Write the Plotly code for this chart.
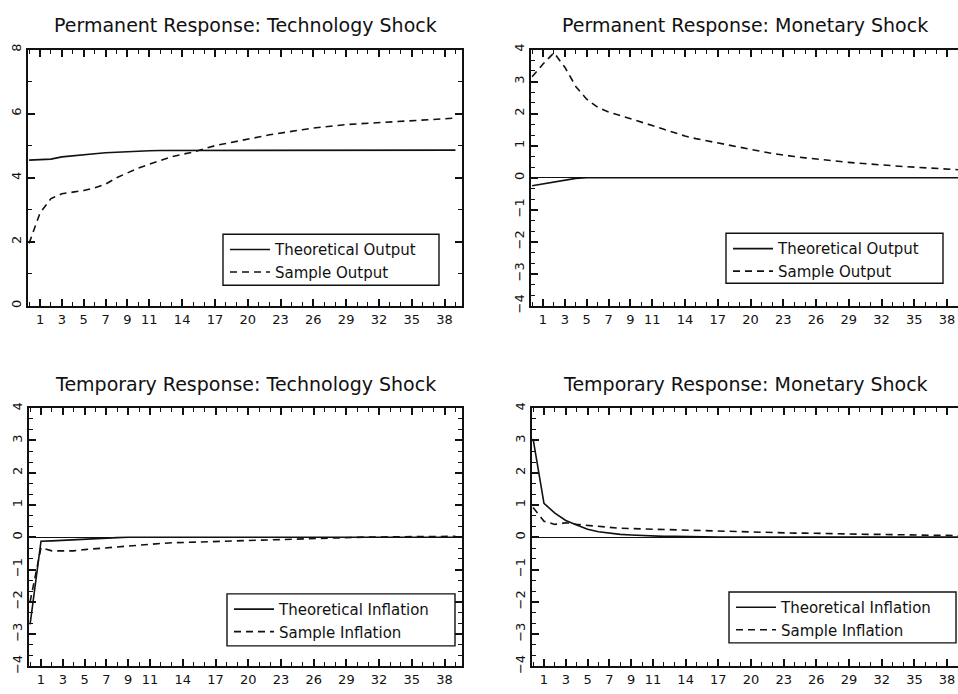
import plotly.graph_objects as go

# Horizon (periods after the shock)
periods = list(range(40))
x_tick_labels = [1, 3, 5, 7, 9, 11, 14, 17, 20, 23, 26, 29, 32, 35, 38]

# Permanent response to a technology shock (output)
tech_perm_theoretical = [4.55, 4.56, 4.58, 4.65, 4.69, 4.72, 4.75, 4.78, 4.80, 4.82,
                         4.83, 4.84, 4.85, 4.85, 4.85, 4.85, 4.85, 4.85, 4.85, 4.85,
                         4.85, 4.85, 4.85, 4.85, 4.85, 4.85, 4.85, 4.85, 4.85, 4.85,
                         4.85, 4.85, 4.85, 4.85, 4.85, 4.86, 4.86, 4.86, 4.86, 4.86]
tech_perm_sample = [1.95, 2.90, 3.35, 3.50, 3.55, 3.60, 3.68, 3.80, 4.00, 4.15,
                    4.30, 4.42, 4.53, 4.65, 4.73, 4.80, 4.90, 5.00, 5.07, 5.13,
                    5.20, 5.27, 5.34, 5.40, 5.45, 5.50, 5.55, 5.59, 5.63, 5.66,
                    5.68, 5.70, 5.72, 5.74, 5.76, 5.78, 5.80, 5.82, 5.84, 5.86]

# Permanent response to a monetary shock (output)
mon_perm_theoretical = [-0.25, -0.19, -0.13, -0.07, -0.02, 0.0, 0.0, 0.0, 0.0, 0.0,
                        0.0, 0.0, 0.0, 0.0, 0.0, 0.0, 0.0, 0.0, 0.0, 0.0,
                        0.0, 0.0, 0.0, 0.0, 0.0, 0.0, 0.0, 0.0, 0.0, 0.0,
                        0.0, 0.0, 0.0, 0.0, 0.0, 0.0, 0.0, 0.0, 0.0, 0.0]
mon_perm_sample = [3.15, 3.55, 3.90, 3.45, 2.85, 2.45, 2.20, 2.05, 1.95, 1.85,
                   1.75, 1.63, 1.52, 1.40, 1.30, 1.22, 1.15, 1.08, 1.01, 0.95,
                   0.88, 0.82, 0.76, 0.70, 0.66, 0.62, 0.58, 0.55, 0.51, 0.48,
                   0.45, 0.42, 0.39, 0.37, 0.35, 0.33, 0.31, 0.29, 0.27, 0.25]

# Temporary response to a technology shock (inflation)
tech_temp_theoretical = [-2.70, -0.12, -0.11, -0.09, -0.07, -0.05, -0.03, -0.02, -0.01, 0.0,
                         0.0, 0.0, 0.0, 0.0, 0.0, 0.0, 0.0, 0.0, 0.0, 0.0,
                         0.0, 0.0, 0.0, 0.0, 0.0, 0.0, 0.0, 0.0, 0.0, 0.0,
                         0.0, 0.0, 0.0, 0.0, 0.0, 0.0, 0.0, 0.0, 0.0, 0.0]
tech_temp_sample = [-2.00, -0.32, -0.42, -0.43, -0.42, -0.38, -0.35, -0.32, -0.29, -0.26,
                    -0.23, -0.21, -0.19, -0.17, -0.16, -0.14, -0.12, -0.11, -0.10, -0.09,
                    -0.08, -0.07, -0.06, -0.05, -0.04, -0.03, -0.02, -0.01, 0.0, 0.0,
                    0.01, 0.01, 0.01, 0.02, 0.02, 0.02, 0.02, 0.03, 0.03, 0.03]

# Temporary response to a monetary shock (inflation)
mon_temp_theoretical = [3.05, 1.05, 0.75, 0.52, 0.38, 0.25, 0.17, 0.12, 0.09, 0.07,
                        0.05, 0.04, 0.03, 0.03, 0.02, 0.02, 0.01, 0.01, 0.01, 0.01,
                        0.01, 0.01, 0.01, 0.01, 0.01, 0.01, 0.01, 0.01, 0.01, 0.01,
                        0.01, 0.01, 0.01, 0.01, 0.01, 0.01, 0.01, 0.01, 0.01, 0.01]
mon_temp_sample = [0.92, 0.50, 0.40, 0.45, 0.40, 0.37, 0.33, 0.30, 0.28, 0.27,
                   0.26, 0.25, 0.24, 0.22, 0.21, 0.20, 0.19, 0.18, 0.17, 0.17,
                   0.16, 0.15, 0.15, 0.14, 0.13, 0.13, 0.12, 0.12, 0.11, 0.10,
                   0.10, 0.09, 0.09, 0.08, 0.08, 0.07, 0.07, 0.06, 0.06, 0.05]

panel_titles = ["Permanent Response: Technology Shock",
                "Permanent Response: Monetary Shock",
                "Temporary Response: Technology Shock",
                "Temporary Response: Monetary Shock"]
series_names = [("Theoretical Output", "Sample Output"),
                ("Theoretical Output", "Sample Output"),
                ("Theoretical Inflation", "Sample Inflation"),
                ("Theoretical Inflation", "Sample Inflation")]
panel_series = [(tech_perm_theoretical, tech_perm_sample),
                (mon_perm_theoretical, mon_perm_sample),
                (tech_temp_theoretical, tech_temp_sample),
                (mon_temp_theoretical, mon_temp_sample)]
y_ranges = [[0, 8], [-4, 4], [-4, 4], [-4, 4]]
y_dticks = [2, 1, 1, 1]
y_minor = [1, 1 / 3, 1 / 3, 1 / 3]

W, H = 958, 694
FONT = "DejaVu Sans"
INK = "#111111"

# panel frames in pixels: (left, right, top, bottom)
frames = [(28, 462, 44.5, 306), (531, 958, 44.5, 306),
          (29, 462, 410.5, 674), (532, 958, 410.5, 674)]
x_ranges = [[-0.1, 39.6], [-0.1, 39.0], [-0.1, 39.6], [-0.1, 39.0]]
# legend frames in pixels: (left, top, right, bottom)
legend_boxes = [(223, 233, 439, 285), (726, 232, 943, 283),
                (227, 600, 455, 653), (729, 598, 956, 650)]

fig = go.Figure()
for i in range(4):
    ax = "" if i == 0 else str(i + 1)
    leg = "legend" if i == 0 else "legend" + str(i + 1)
    theo, samp = panel_series[i]
    n_theo, n_samp = series_names[i]
    fig.add_trace(go.Scatter(x=periods, y=theo, mode="lines", name=n_theo,
                             line=dict(color=INK, width=1.6),
                             xaxis="x" + ax, yaxis="y" + ax, legend=leg))
    fig.add_trace(go.Scatter(x=periods, y=samp, mode="lines", name=n_samp,
                             line=dict(color=INK, width=1.6, dash="7px,5px"),
                             xaxis="x" + ax, yaxis="y" + ax, legend=leg))

    l, r, t, b = frames[i]
    right_col = i in (1, 3)
    xa = dict(domain=[l / W, r / W], range=x_ranges[i], anchor="y" + ax,
              showline=True, linecolor=INK, linewidth=2.2, mirror="allticks",
              ticks="inside", ticklen=7, tickwidth=1.5, tickcolor=INK,
              tickmode="array", tickvals=x_tick_labels,
              minor=dict(dtick=1, tick0=0, ticks="inside", ticklen=4,
                         tickwidth=1.3, tickcolor=INK),
              showgrid=False, zeroline=False,
              tickfont=dict(family=FONT, size=13, color=INK))
    ya = dict(domain=[1 - b / H, 1 - t / H], range=y_ranges[i], anchor="x" + ax,
              showline=True, linecolor=INK, linewidth=2.2,
              mirror=False if right_col else "allticks",
              ticks="inside", ticklen=7, tickwidth=1.5, tickcolor=INK,
              dtick=y_dticks[i], tick0=0, tickangle=-90,
              minor=dict(dtick=y_minor[i], tick0=0, ticks="inside", ticklen=4,
                         tickwidth=1.3, tickcolor=INK),
              showgrid=False, zeroline=(i != 0), zerolinecolor=INK,
              zerolinewidth=1.4,
              tickfont=dict(family=FONT, size=13, color=INK))
    fig.update_layout(**{"xaxis" + ax: xa, "yaxis" + ax: ya})

    # legend frame drawn as a rectangle, entries placed inside it
    bl, bt, br, bb = legend_boxes[i]
    fig.add_shape(type="rect", xref="paper", yref="paper",
                  x0=bl / W, x1=br / W, y0=1 - bb / H, y1=1 - bt / H,
                  line=dict(color=INK, width=1.4), fillcolor="white",
                  layer="above")
    fig.update_layout(**{leg: dict(x=(bl + 2) / W, y=1 - (bt - 1) / H,
                                   xanchor="left", yanchor="top",
                                   xref="paper", yref="paper",
                                   bgcolor="rgba(0,0,0,0)", borderwidth=0,
                                   itemwidth=40,
                                   font=dict(family=FONT, size=15, color=INK),
                                   tracegroupgap=0)})

    fig.add_annotation(text=panel_titles[i], x=(l + r) / 2 / W,
                       y=1 - (t - 25) / H, xref="paper", yref="paper",
                       xanchor="center", yanchor="middle", showarrow=False,
                       font=dict(family=FONT, size=19, color=INK))

fig.update_layout(width=W, height=H, margin=dict(l=0, r=0, t=0, b=0),
                  paper_bgcolor="white", plot_bgcolor="white")

fig.write_html("out.html")
